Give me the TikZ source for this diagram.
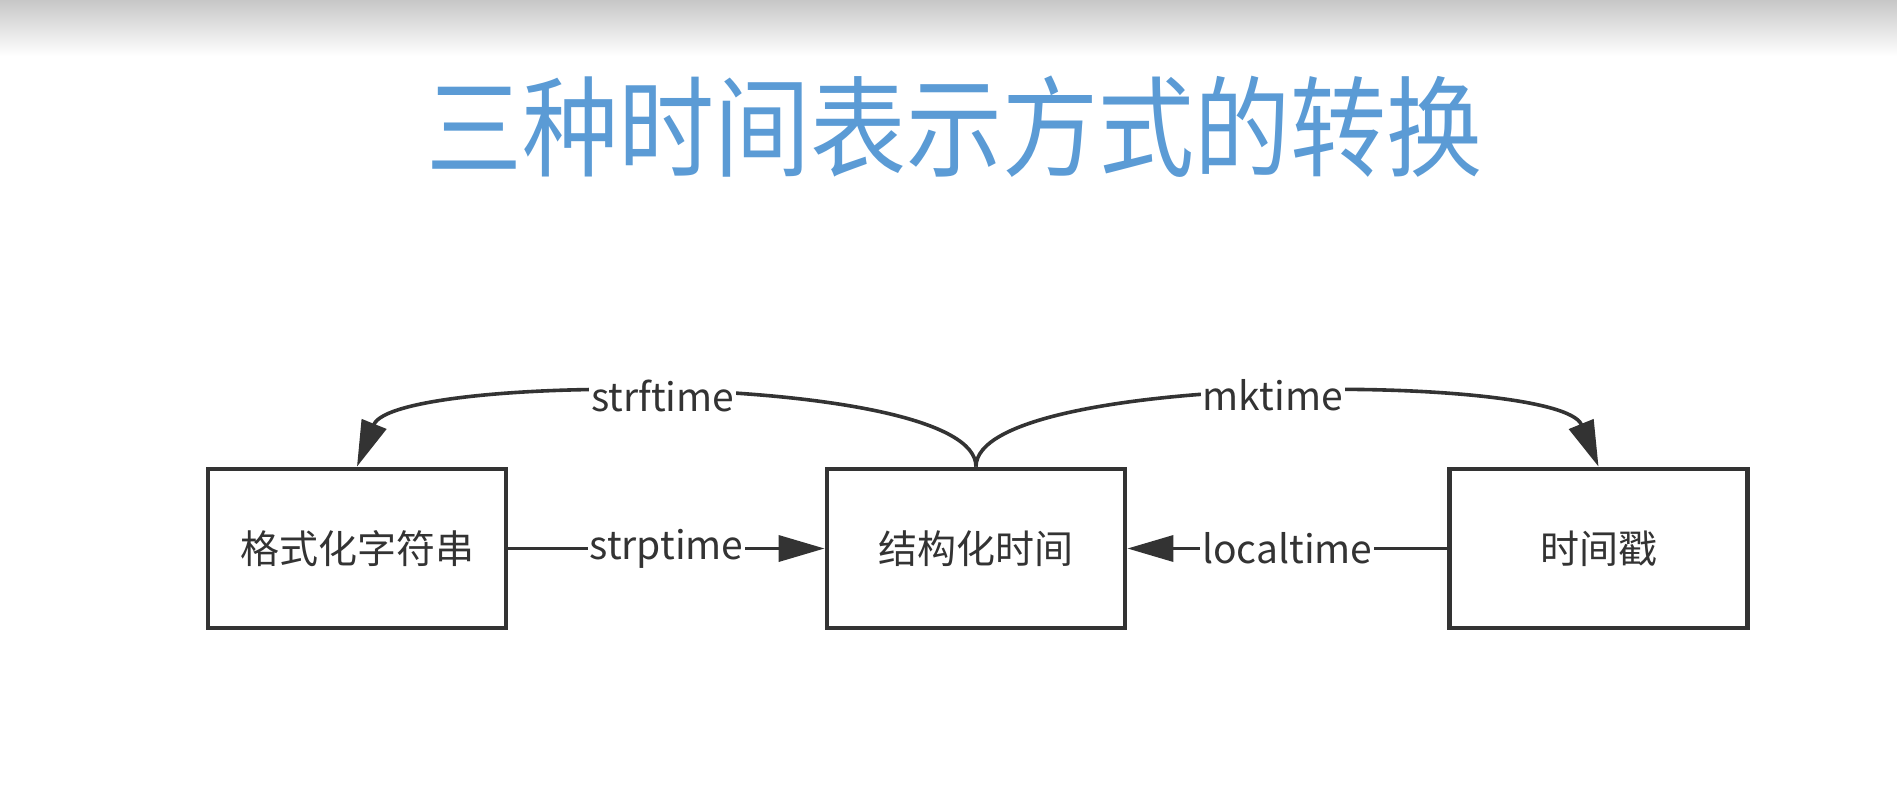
\documentclass[tikz,border=0pt]{standalone}
\usepackage{fontspec}
\setmainfont{Noto Sans CJK SC}
\usetikzlibrary{arrows.meta}
\definecolor{ttl}{HTML}{5B9BD5}
\definecolor{ink}{HTML}{333333}

\begin{document}
\begin{tikzpicture}[x=0.5pt,y=-0.5pt,
    box/.style={rectangle,draw=ink,line width=2.4pt,fill=white,minimum width=149pt,minimum height=79.5pt,inner sep=0pt,text=ink,font=\fontsize{19.5pt}{23pt}\selectfont},
    lbl/.style={fill=white,inner sep=1pt,text=ink,font=\fontsize{19.5pt}{23pt}\selectfont},
    conn/.style={draw=ink,line width=1.8pt,-{Triangle[length=23pt,width=13pt]}}]

      \useasboundingbox (0,0) rectangle (1897,793);
      \shade[top color=black!22,bottom color=white] (0,0) rectangle (1897,56);

      \node[inner sep=0pt,text=ttl,font=\fontsize{48pt}{56pt}\selectfont] (title) at (954,127){\scalebox{1}[1.14]{三种时间表示方式的转换}};

      \node[box] (f) at (357,548.5){格式化字符串};
      \node[box] (s) at (976,548.5){结构化时间};
      \node[box] (t) at (1598.5,548.5){时间戳};

      \draw[conn] (f) -- node[lbl]{strptime} (s);
      \draw[conn] (t) -- node[lbl]{localtime} (s);
      \draw[conn] (s.north) .. controls (976,372) and (395,372) .. node[lbl,pos=0.52]{strftime} (f.north);
      \draw[conn] (s.north) .. controls (976,372) and (1560,372) .. node[lbl,pos=0.5]{mktime} (t.north);
    \end{tikzpicture}
\end{document}
